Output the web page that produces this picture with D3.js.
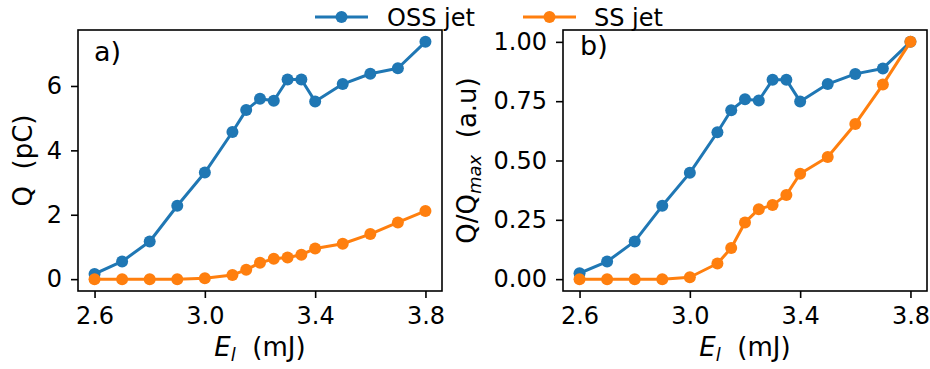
<!DOCTYPE html>
<html>
<head>
<meta charset="utf-8">
<script src="https://cdn.jsdelivr.net/npm/d3@7"></script>
<style>
  html, body { margin: 0; padding: 0; background: #fff; }
  svg { display: block; font-family: "DejaVu Sans", sans-serif; }
</style>
</head>
<body>
<svg id="chart" width="930" height="369"></svg>
<script>
// ---- data ----
const energy = [2.6, 2.7, 2.8, 2.9, 3.0, 3.1, 3.15, 3.2, 3.25, 3.3, 3.35, 3.4, 3.5, 3.6, 3.7, 3.8];
const ossQ = [0.16, 0.55, 1.17, 2.28, 3.31, 4.57, 5.25, 5.60, 5.54, 6.20, 6.20, 5.52, 6.06, 6.38, 6.55, 7.37];
const ssQ  = [0.0, 0.0, 0.0, 0.0, 0.03, 0.13, 0.29, 0.51, 0.63, 0.67, 0.76, 0.95, 1.10, 1.40, 1.76, 2.12];
const ossNorm = [0.025, 0.074, 0.159, 0.309, 0.448, 0.619, 0.712, 0.758, 0.753, 0.840, 0.840, 0.749, 0.822, 0.865, 0.888, 1.0];
const ssNorm  = [0.0, 0.0, 0.0, 0.0, 0.008, 0.066, 0.131, 0.239, 0.295, 0.312, 0.355, 0.444, 0.515, 0.654, 0.820, 1.0];
const xTicks = [2.6, 3.0, 3.4, 3.8];
const xTickLabels = ["2.6", "3.0", "3.4", "3.8"];
const leftYTicks = [0, 2, 4, 6];
const rightYTicks = [0, 0.25, 0.5, 0.75, 1.0];
const seriesNames = ["OSS jet", "SS jet"];
const colors = ["#1f77b4", "#ff7f0e"];

const svg = d3.select("#chart");
const TICK_FS = 24, LABEL_FS = 26, TAG_FS = 27, LEG_FS = 24;

function pad(ext) { const r = ext[1] - ext[0]; return [ext[0] - 0.05 * r, ext[1] + 0.05 * r]; }

function panel(opts) {
  const { left, right, top, bottom, ys, yTicks, yFmt, tag, tagX, tagY } = opts;
  const x = d3.scaleLinear().domain(pad(d3.extent(energy))).range([left, right]);
  const allY = ys.flat();
  const y = d3.scaleLinear().domain(pad(d3.extent(allY))).range([bottom, top]);
  const g = svg.append("g");

  // series
  ys.forEach((vals, i) => {
    const pts = energy.map((e, j) => [e, vals[j]]);
    g.append("path")
      .attr("d", d3.line().x(d => x(d[0])).y(d => y(d[1]))(pts))
      .attr("fill", "none").attr("stroke", colors[i]).attr("stroke-width", 3)
      .attr("stroke-linejoin", "round").attr("stroke-linecap", "square");
    g.selectAll(null).data(pts).enter().append("circle")
      .attr("cx", d => x(d[0])).attr("cy", d => y(d[1])).attr("r", 6)
      .attr("fill", colors[i]);
  });

  // axes
  const xa = g.append("g").attr("transform", `translate(0,${bottom})`)
    .call(d3.axisBottom(x).tickValues(xTicks).tickFormat((d, i) => xTickLabels[i]).tickSize(7).tickPadding(9));
  const ya = g.append("g").attr("transform", `translate(${left},0)`)
    .call(d3.axisLeft(y).tickValues(yTicks).tickFormat(yFmt).tickSize(7).tickPadding(9));
  [xa, ya].forEach(a => {
    a.select(".domain").remove();
    a.selectAll("line").attr("stroke", "#000").attr("stroke-width", 1.6);
    a.selectAll("text").attr("font-size", TICK_FS).attr("fill", "#000").attr("font-family", "DejaVu Sans");
  });
  g.append("rect").attr("x", left).attr("y", top).attr("width", right - left).attr("height", bottom - top)
    .attr("fill", "none").attr("stroke", "#000").attr("stroke-width", 1.6);

  g.append("text").attr("x", tagX).attr("y", tagY).attr("font-size", TAG_FS).text(tag);

  // x label
  const xl = g.append("text").attr("x", (left + right) / 2).attr("y", 356)
    .attr("text-anchor", "middle").attr("font-size", LABEL_FS);
  xl.append("tspan").attr("font-style", "italic").text("E");
  xl.append("tspan").attr("font-style", "italic").attr("font-size", 18).attr("dy", 5).text("l");
  xl.append("tspan").attr("dy", -5).text("\u00a0\u00a0(mJ)");
  return g;
}

panel({ left: 78, right: 442, top: 30, bottom: 291, ys: [ossQ, ssQ], yTicks: leftYTicks,
  yFmt: d3.format("d"), tag: "a)", tagX: 94, tagY: 61 });
panel({ left: 563, right: 927, top: 30, bottom: 291, ys: [ossNorm, ssNorm], yTicks: rightYTicks,
  yFmt: d3.format(".2f"), tag: "b)", tagX: 580, tagY: 55 });

// y labels
svg.append("text").attr("transform", "translate(32,160.5) rotate(-90)")
  .attr("text-anchor", "middle").attr("font-size", LABEL_FS).text("Q\u00a0\u00a0(pC)");
const yl2 = svg.append("text").attr("transform", "translate(476,160.5) rotate(-90)")
  .attr("text-anchor", "middle").attr("font-size", LABEL_FS);
yl2.append("tspan").text("Q/Q");
yl2.append("tspan").attr("font-style", "italic").attr("font-size", 18).attr("dy", 5).text("max");
yl2.append("tspan").attr("dy", -5).text("\u00a0\u00a0(a.u)");

// legend
const legendItems = [{ x: 315, tx: 387 }, { x: 523, tx: 594 }];
legendItems.forEach((it, i) => {
  const lg = svg.append("g");
  lg.append("line").attr("x1", it.x).attr("x2", it.x + 53).attr("y1", 17).attr("y2", 17)
    .attr("stroke", colors[i]).attr("stroke-width", 3);
  lg.append("circle").attr("cx", it.x + 26.5).attr("cy", 17).attr("r", 6).attr("fill", colors[i]);
  lg.append("text").attr("x", it.tx).attr("y", 25.5).attr("font-size", LEG_FS).text(seriesNames[i]);
});
</script>
</body>
</html>
